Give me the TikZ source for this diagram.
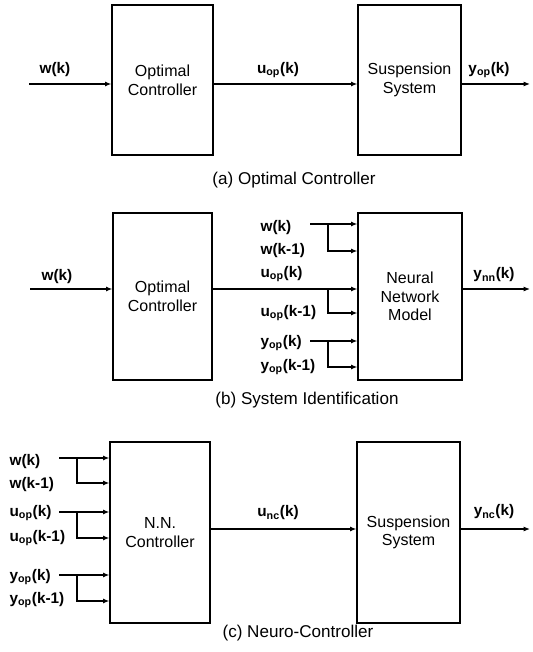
\documentclass[tikz,border=0pt]{standalone}
\usepackage{fontspec}
\setmainfont{Liberation Sans}
\usetikzlibrary{arrows.meta}
\begin{document}
\begin{tikzpicture}[x=0.75pt,y=-0.75pt,
  blk/.style={draw,line width=0.9pt,inner sep=0pt,align=center,font=\fontsize{12}{14}\selectfont},
  sig/.style={font=\fontsize{11.5}{13}\selectfont\bfseries,inner sep=1pt},
  lbl/.style={sig,anchor=west},
  captxt/.style={font=\fontsize{12.8}{15}\selectfont,inner sep=0pt},
  ln/.style={line width=0.9pt},
  arr/.style={ln,-{Latex[length=4.8pt,width=3.8pt]}}]
\useasboundingbox (0,0) rectangle (532,652);

% ---------- (a) ----------
\node[blk,minimum width=75.75pt,minimum height=112.5pt] (oca) at (162.5,80) {Optimal\\Controller};
\node[blk,minimum width=77.25pt,minimum height=112.5pt] (ssa) at (409.5,80) {Suspension\\System};
\coordinate (ina) at (29,84);
\coordinate (outa) at (530,84);
\draw[arr] (ina) -- (ina -| oca.west);
\draw[arr] (ina -| oca.east) -- (ina -| ssa.west);
\draw[arr] (ina -| ssa.east) -- (outa);
\node[sig] (wa) at (55,70) {w(k)};
\node[sig] (ua) at (278,70) {u\textsubscript{op}(k)};
\node[sig] (ya) at (489,70) {y\textsubscript{op}(k)};
\node[captxt] (capa) at (294,180) {(a) Optimal Controller};

% ---------- (b) ----------
\node[blk,minimum width=74.25pt,minimum height=125.25pt] (ocb) at (162.5,296.5) {Optimal\\Controller};
\node[blk,minimum width=78pt,minimum height=125.25pt] (nnb) at (410,296.5) {Neural\\Network\\Model};
\coordinate (inb) at (30,289);
\coordinate (outb) at (530,289);
\draw[arr] (inb) -- (inb -| ocb.west);
\draw[arr] (inb -| ocb.east) -- (inb -| nnb.west);
\draw[arr] (inb -| nnb.east) -- (outb);
\coordinate (bu) at (328,289);
\coordinate (bu2) at (328,313);
\draw[arr] (bu) -- (bu2) -- (bu2 -| nnb.west);
\coordinate (wsb) at (310,224);
\coordinate (bw) at (328,224);
\coordinate (bw2) at (328,251);
\draw[arr] (wsb) -- (wsb -| nnb.west);
\draw[arr] (bw) -- (bw2) -- (bw2 -| nnb.west);
\coordinate (ysb) at (310,341);
\coordinate (by) at (328,341);
\coordinate (by2) at (328,367);
\draw[arr] (ysb) -- (ysb -| nnb.west);
\draw[arr] (by) -- (by2) -- (by2 -| nnb.west);
\node[sig] (wb) at (57,277) {w(k)};
\node[lbl] (wb1) at (259,228) {w(k)};
\node[lbl] (wb2) at (259,251) {w(k-1)};
\node[lbl] (ub1) at (259,274) {u\textsubscript{op}(k)};
\node[lbl] (ub2) at (259,313) {u\textsubscript{op}(k-1)};
\node[lbl] (yb1) at (259,343) {y\textsubscript{op}(k)};
\node[lbl] (yb2) at (259,367) {y\textsubscript{op}(k-1)};
\node[sig] (ynn) at (494,275) {y\textsubscript{nn}(k)};
\node[captxt] (capb) at (307,400) {(b) System Identification};

% ---------- (c) ----------
\node[blk,minimum width=75pt,minimum height=135.75pt] (nnc) at (160,532.5) {N.N.\\Controller};
\node[blk,minimum width=77.25pt,minimum height=135.75pt] (ssc) at (408.5,532.5) {Suspension\\System};
\coordinate (wsc) at (59,458);
\coordinate (bwc) at (77,458);
\coordinate (bwc2) at (77,483);
\draw[arr] (wsc) -- (wsc -| nnc.west);
\draw[arr] (bwc) -- (bwc2) -- (bwc2 -| nnc.west);
\coordinate (usc) at (59,512);
\coordinate (buc) at (77,512);
\coordinate (buc2) at (77,538);
\draw[arr] (usc) -- (usc -| nnc.west);
\draw[arr] (buc) -- (buc2) -- (buc2 -| nnc.west);
\coordinate (ysc) at (59,575);
\coordinate (byc) at (77,575);
\coordinate (byc2) at (77,601);
\draw[arr] (ysc) -- (ysc -| nnc.west);
\draw[arr] (byc) -- (byc2) -- (byc2 -| nnc.west);
\coordinate (mc) at (0,529);
\coordinate (outc) at (530,529);
\draw[arr] (mc -| nnc.east) -- (mc -| ssc.west);
\draw[arr] (mc -| ssc.east) -- (outc);
\node[lbl] (wc1) at (8,462) {w(k)};
\node[lbl] (wc2) at (8,485) {w(k-1)};
\node[lbl] (uc1) at (8,513) {u\textsubscript{op}(k)};
\node[lbl] (uc2) at (8,538) {u\textsubscript{op}(k-1)};
\node[lbl] (yc1) at (8,577) {y\textsubscript{op}(k)};
\node[lbl] (yc2) at (8,600) {y\textsubscript{op}(k-1)};
\node[sig] (unc) at (278,513) {u\textsubscript{nc}(k)};
\node[sig] (ync) at (494,512) {y\textsubscript{nc}(k)};
\node[captxt] (capc) at (298,633) {(c) Neuro-Controller};
\end{tikzpicture}
\end{document}
